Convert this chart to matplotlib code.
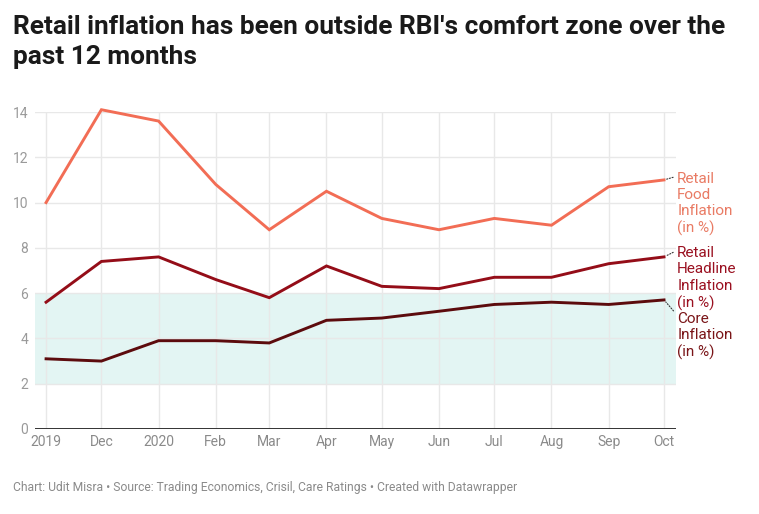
import matplotlib
matplotlib.use("Agg")
import matplotlib.pyplot as plt
import datetime as dt

months = ["2019-11-01", "2019-12-01", "2020-01-01", "2020-02-01", "2020-03-01", "2020-04-01",
          "2020-05-01", "2020-06-01", "2020-07-01", "2020-08-01", "2020-09-01", "2020-10-01"]
tick_labels = ["2019", "Dec", "2020", "Feb", "Mar", "Apr", "May", "Jun", "Jul", "Aug", "Sep", "Oct"]
food = [10.0, 14.1, 13.6, 10.8, 8.8, 10.5, 9.3, 8.8, 9.3, 9.0, 10.7, 11.0]
headline = [5.6, 7.4, 7.6, 6.6, 5.8, 7.2, 6.3, 6.2, 6.7, 6.7, 7.3, 7.6]
core = [3.1, 3.0, 3.9, 3.9, 3.8, 4.8, 4.9, 5.2, 5.5, 5.6, 5.5, 5.7]
band = [2, 6]
yticks = [0, 2, 4, 6, 8, 10, 12, 14]

plt.rcParams['font.family'] = ['Roboto', 'DejaVu Sans']

dates = [dt.datetime.strptime(m, "%Y-%m-%d") for m in months]

W, H = 759, 514
fig = plt.figure(figsize=(W / 100, H / 100), dpi=100)
ax = fig.add_axes([35 / W, 1 - 429 / H, (676 - 35) / W, (429 - 112) / H])

ax.set_xlim(dates[0] - dt.timedelta(days=6), dates[-1] + dt.timedelta(days=6.5))
ax.set_ylim(0, 14)

ax.axhspan(band[0], band[1], color="#e3f5f3", zorder=0, lw=0)

for y in yticks[1:]:
    ax.axhline(y, color="#e8e8e8", lw=1, zorder=1)
for d in dates:
    ax.axvline(d, color="#e8e8e8", lw=1, zorder=1)
ax.axhline(0, color="#333333", lw=1.4, zorder=3)

c_food, c_head, c_core = "#f26d55", "#940d18", "#5c0b0d"
ax.plot(dates, food, color=c_food, lw=2.1, zorder=4, clip_on=False, solid_joinstyle="miter")
ax.plot(dates, headline, color=c_head, lw=2.1, zorder=4, clip_on=False, solid_joinstyle="miter")
ax.plot(dates, core, color=c_core, lw=2.1, zorder=4, clip_on=False, solid_joinstyle="miter")

for s in ax.spines.values():
    s.set_visible(False)

ax.set_yticks(yticks)
ax.set_yticklabels([str(v) for v in yticks])
ax.set_xticks(dates)
ax.set_xticklabels(tick_labels)
ax.tick_params(axis="y", length=0, pad=5, labelsize=10, labelcolor="#9a9a9a")
ax.tick_params(axis="x", length=0, pad=4.5, labelsize=10, labelcolor="#8a8a8a")

labels = [
    ("Retail\nFood\nInflation\n(in %)", food[-1], "#e97b64", 6),
    ("Retail\nHeadline\nInflation\n(in %)", headline[-1], "#9a1020", 8),
    ("Core\nInflation\n(in %)", core[-1], "#7a1518", -8.5),
]
for txt, v, col, dy in labels:
    ax.annotate(txt, xy=(dates[-1], v), xytext=(9.5, dy), textcoords="offset points",
                ha="left", va="top", fontsize=11, color=col, linespacing=1.22,
                annotation_clip=False,
                arrowprops=dict(arrowstyle="-", linestyle=(0, (1, 1.5)), color="#333333", lw=0.8,
                                relpos=(0, 0.93), shrinkA=1, shrinkB=2))

fig.text(13 / W, 1 - 15 / H, "Retail inflation has been outside RBI's comfort zone over the\npast 12 months",
         fontsize=18.9, fontweight="bold", color="#1a1a1a", ha="left", va="top", linespacing=1.3)
fig.text(13 / W, 1 - 488 / H,
         "Chart: Udit Misra \u2022 Source: Trading Economics, Crisil, Care Ratings \u2022 Created with Datawrapper",
         fontsize=8.7, color="#8a8a8a", ha="left", va="center")

fig.savefig("out.png", dpi=100)
